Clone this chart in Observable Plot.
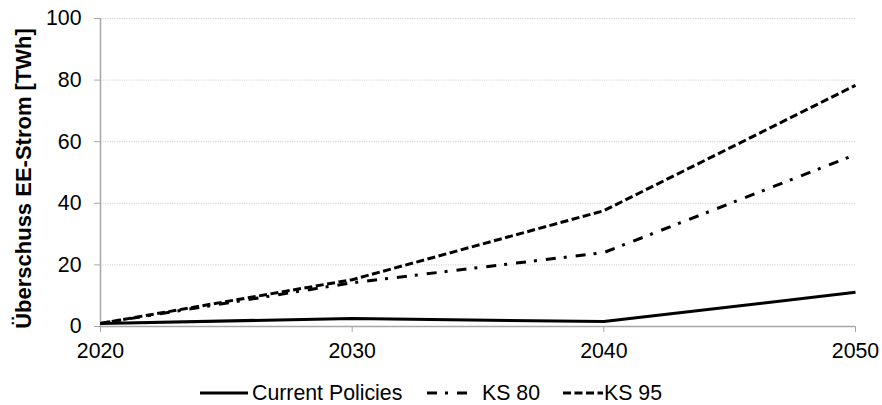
<!DOCTYPE html>
<html><head><meta charset="utf-8">
<script src="https://cdn.jsdelivr.net/npm/d3@7"></script>
<script src="https://cdn.jsdelivr.net/npm/@observablehq/plot@0.6"></script>
<style>
body{margin:0;background:#fff;font-family:"Liberation Sans",Arial,sans-serif;}
#wrap{position:relative;width:882px;height:405px;}
#legend{position:absolute;left:0;top:364px;width:882px;height:41px;font-size:21.3px;color:#000;}
.item{position:absolute;top:17px;display:flex;align-items:center;height:24px;}
.item svg{display:block}
</style>
</head><body>
<div id="wrap"><div id="chart"></div><div id="legend"></div></div>
<script>
const years = [2020, 2030, 2040, 2050];
const seriesNames = ["Current Policies", "KS 80", "KS 95"];
const currentPolicies = [1.0, 2.6, 1.6, 11.1];
const ks80 = [1.0, 14.2, 24.0, 55.8];
const ks95 = [1.0, 15.2, 37.6, 78.3];
const yTicks = [0, 20, 40, 60, 80, 100];
const dashes = {"Current Policies": null, "KS 80": "10,8,3,9", "KS 95": "8,3.5"};

const rows = [];
[currentPolicies, ks80, ks95].forEach((vals, i) => {
  vals.forEach((v, j) => rows.push({series: seriesNames[i], year: years[j], value: v}));
});

const axisGray = "#a6a6a6";
const fs = 21.3;
const chart = Plot.plot({
  width: 882, height: 364,
  marginLeft: 100, marginRight: 27, marginTop: 18, marginBottom: 38,
  style: {fontFamily: "Liberation Sans, Arial, sans-serif", fontSize: fs + "px", color: "#000", background: "#fff"},
  x: {domain: [2020, 2050]},
  y: {domain: [0, 100]},
  marks: [
    Plot.gridY(yTicks, {stroke: "#cfcfcf", strokeOpacity: 1, strokeDasharray: "1.2,1.2"}),
    Plot.ruleX([2020], {stroke: axisGray, strokeWidth: 1.5}),
    Plot.ruleY([0], {stroke: axisGray, strokeWidth: 1.5}),
    Plot.axisY(yTicks, {tickSize: 6, tickPadding: 13, stroke: axisGray, fill: "#000",
      label: "Überschuss EE-Strom [TWh]", labelAnchor: "center", labelArrow: "none", labelOffset: 85,
      fontSize: 22}),
    Plot.axisY(yTicks, {tickSize: 0, text: null, label: null}),
    Plot.axisX(years, {tickSize: 6, tickPadding: 10, stroke: axisGray, fill: "#000", tickFormat: "d", label: null, fontSize: fs}),
    ...seriesNames.map(s => Plot.line(rows.filter(r => r.series === s), {
      x: "year", y: "value", stroke: "#000", strokeWidth: 3,
      strokeDasharray: dashes[s], strokeLinecap: "butt"
    }))
  ]
});
document.getElementById("chart").appendChild(chart);
chart.querySelectorAll("g[aria-label='y-axis label']").forEach(e => {
  e.setAttribute("font-weight", "bold");
  e.setAttribute("transform", ((e.getAttribute("transform") || "") + " translate(0,6)").trim());
});
chart.querySelectorAll("g[aria-label='y-axis tick label']").forEach(e => e.setAttribute("font-size", fs));

const legendPos = [
  {name: "Current Policies", sx: 200, sw: 48, tx: 252},
  {name: "KS 80", sx: 427, sw: 45, tx: 482},
  {name: "KS 95", sx: 563, sw: 40, tx: 604}
];
const legend = document.getElementById("legend");
legendPos.forEach(p => {
  const sw = document.createElement("div");
  sw.className = "item"; sw.style.left = p.sx + "px";
  const d = dashes[p.name];
  sw.innerHTML = `<svg width="${p.sw}" height="24"><line x1="0" y1="12" x2="${p.sw}" y2="12" stroke="#000" stroke-width="3" ${d ? `stroke-dasharray="${d}"` : ""}/></svg>`;
  legend.appendChild(sw);
  const t = document.createElement("div");
  t.className = "item"; t.style.left = p.tx + "px"; t.textContent = p.name;
  legend.appendChild(t);
});
</script>
</body></html>
